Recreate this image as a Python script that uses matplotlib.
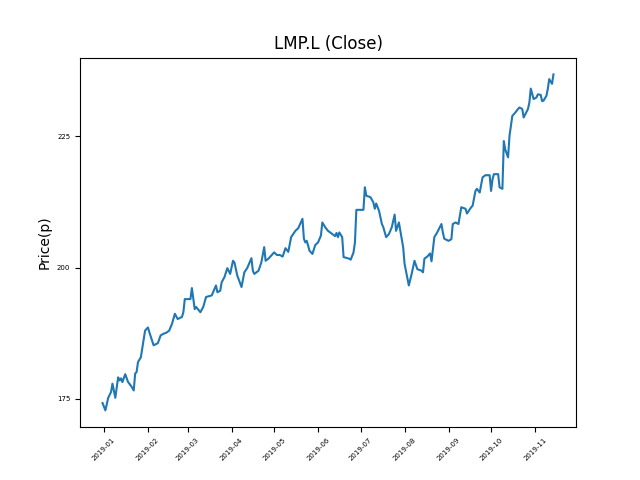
import pandas as pd
import matplotlib
matplotlib.use("Agg")
import matplotlib.pyplot as plt

# close prices (pence)
dates = [
    "2018-12-31", "2019-01-02", "2019-01-04", "2019-01-06", "2019-01-07", "2019-01-09",
    "2019-01-11", "2019-01-12", "2019-01-13", "2019-01-14", "2019-01-16", "2019-01-18",
    "2019-01-20", "2019-01-22", "2019-01-23", "2019-01-24", "2019-01-25", "2019-01-27",
    "2019-01-30", "2019-02-01", "2019-02-02", "2019-02-05", "2019-02-08", "2019-02-10",
    "2019-02-12", "2019-02-14", "2019-02-16", "2019-02-18", "2019-02-20", "2019-02-22",
    "2019-02-25", "2019-02-26", "2019-02-27", "2019-03-03", "2019-03-04", "2019-03-06",
    "2019-03-07", "2019-03-10", "2019-03-12", "2019-03-14", "2019-03-18", "2019-03-21",
    "2019-03-22", "2019-03-24", "2019-03-25", "2019-03-27", "2019-03-29", "2019-03-31",
    "2019-04-02", "2019-04-03", "2019-04-05", "2019-04-08", "2019-04-10", "2019-04-12",
    "2019-04-15", "2019-04-16", "2019-04-17", "2019-04-20", "2019-04-22", "2019-04-24",
    "2019-04-25", "2019-04-27", "2019-04-29", "2019-05-01", "2019-05-03", "2019-05-05",
    "2019-05-07", "2019-05-09", "2019-05-11", "2019-05-13", "2019-05-16", "2019-05-18",
    "2019-05-21", "2019-05-22", "2019-05-23", "2019-05-24", "2019-05-26", "2019-05-28",
    "2019-05-30", "2019-06-01", "2019-06-03", "2019-06-04", "2019-06-06", "2019-06-08",
    "2019-06-11", "2019-06-13", "2019-06-14", "2019-06-15", "2019-06-16", "2019-06-18",
    "2019-06-19", "2019-06-23", "2019-06-24", "2019-06-26", "2019-06-27", "2019-06-28",
    "2019-07-03", "2019-07-04", "2019-07-05", "2019-07-08", "2019-07-10", "2019-07-11",
    "2019-07-12", "2019-07-14", "2019-07-16", "2019-07-17", "2019-07-19", "2019-07-21",
    "2019-07-23", "2019-07-25", "2019-07-26", "2019-07-28", "2019-07-31", "2019-08-01",
    "2019-08-04", "2019-08-06", "2019-08-08", "2019-08-10", "2019-08-13", "2019-08-14",
    "2019-08-15", "2019-08-17", "2019-08-19", "2019-08-20", "2019-08-22", "2019-08-24",
    "2019-08-27", "2019-08-28", "2019-08-29", "2019-09-01", "2019-09-03", "2019-09-04",
    "2019-09-06", "2019-09-08", "2019-09-10", "2019-09-13", "2019-09-14", "2019-09-17",
    "2019-09-18", "2019-09-20", "2019-09-21", "2019-09-23", "2019-09-25", "2019-09-27",
    "2019-09-30", "2019-10-01", "2019-10-02", "2019-10-03", "2019-10-06", "2019-10-07",
    "2019-10-09", "2019-10-10", "2019-10-11", "2019-10-13", "2019-10-14", "2019-10-16",
    "2019-10-18", "2019-10-20", "2019-10-21", "2019-10-23", "2019-10-24", "2019-10-27",
    "2019-10-28", "2019-10-29", "2019-10-31", "2019-11-02", "2019-11-03", "2019-11-05",
    "2019-11-06", "2019-11-07", "2019-11-09", "2019-11-10", "2019-11-11", "2019-11-13",
    "2019-11-14",
]
close = [
    174.2, 172.8, 175.2, 176.3, 177.9, 175.2,
    179.1, 178.5, 178.9, 178.2, 179.7, 178.2,
    177.5, 176.6, 179.8, 180.1, 182.0, 182.9,
    188.0, 188.6, 187.7, 185.2, 185.6, 187.1,
    187.4, 187.6, 188.0, 189.3, 191.2, 190.2,
    190.6, 191.5, 194.0, 194.0, 196.1, 192.1,
    192.5, 191.5, 192.5, 194.4, 194.7, 196.6,
    195.3, 195.6, 197.2, 198.2, 199.9, 198.8,
    201.3, 201.0, 198.5, 196.3, 199.1, 199.9,
    201.8, 199.4, 198.8, 199.4, 201.0, 203.9,
    201.3, 201.7, 202.3, 202.9, 202.4, 202.4,
    202.1, 203.7, 203.0, 205.8, 207.0, 207.5,
    209.3, 205.5, 204.8, 205.1, 203.2, 202.6,
    204.3, 204.8, 206.1, 208.6, 207.7, 207.0,
    206.4, 206.0, 206.6, 205.8, 206.7, 205.8,
    202.0, 201.7, 201.5, 202.9, 204.8, 211.0,
    211.0, 215.3, 213.7, 213.4, 212.4, 211.2,
    212.2, 210.8, 208.3, 207.7, 205.8, 206.4,
    207.7, 210.1, 207.0, 208.6, 203.9, 200.7,
    196.6, 198.8, 201.3, 199.7, 199.4, 199.1,
    201.7, 202.1, 202.7, 201.2, 205.8, 206.7,
    208.3, 206.7, 205.5, 205.1, 205.4, 208.3,
    208.6, 208.3, 211.5, 211.2, 210.3, 211.5,
    211.8, 214.6, 215.0, 214.3, 217.2, 217.6,
    217.6, 214.6, 216.8, 217.8, 217.8, 215.3,
    215.0, 224.1, 222.5, 221.0, 225.1, 228.9,
    229.5, 230.2, 230.5, 230.2, 228.6, 230.2,
    231.4, 234.1, 232.1, 232.4, 233.0, 232.9,
    231.7, 231.8, 232.7, 234.0, 235.9, 235.0,
    236.8,
]
y_ticks = [175, 200, 225]

fig, ax = plt.subplots(figsize=(6.4, 4.8), dpi=100)
ax.plot(pd.to_datetime(dates), close)
ax.set_title("LMP.L (Close)")
ax.set_ylabel("Price(p)")
ax.set_yticks(y_ticks)
ax.tick_params(axis="both", labelsize=5)
plt.setp(ax.get_xticklabels(), rotation=45)

fig.savefig("out.png")
